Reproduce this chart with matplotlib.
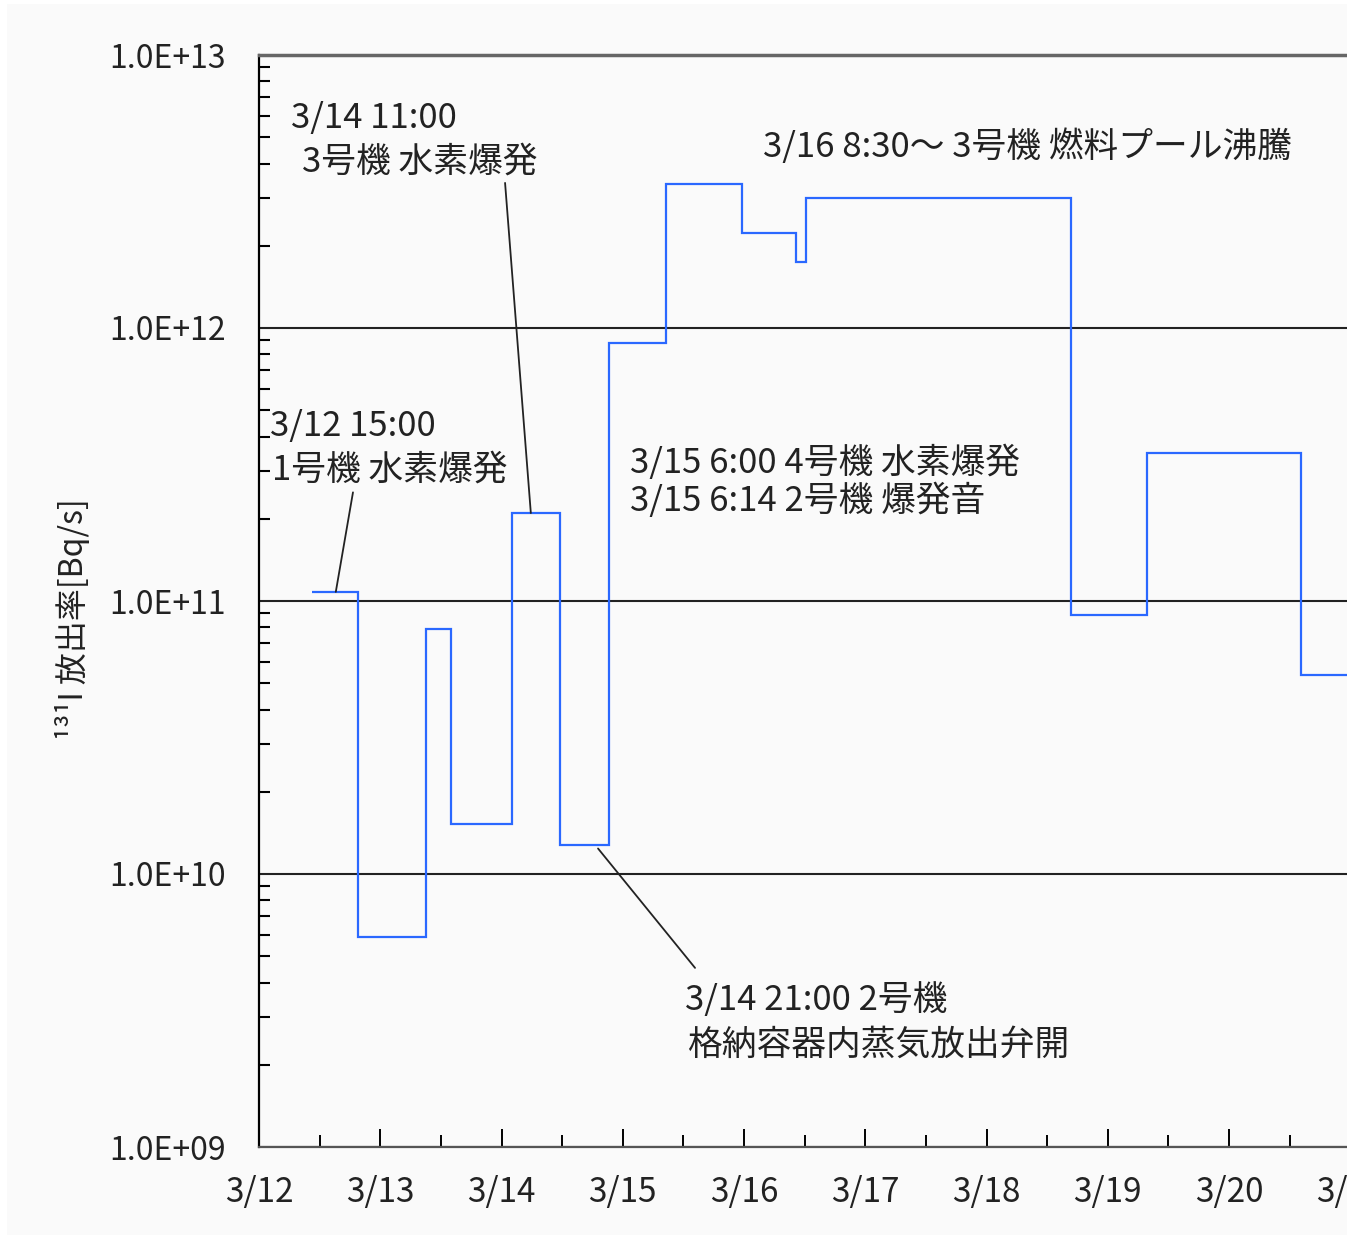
import matplotlib
matplotlib.use("Agg")
import matplotlib.pyplot as plt
from matplotlib.patches import Rectangle
from matplotlib.ticker import FixedLocator, FuncFormatter, LogLocator, NullFormatter

plt.rcParams['font.family'] = ['Noto Sans CJK JP', 'DejaVu Sans']

# step edges in hours from 3/12 0:00, release rate of I-131 [Bq/s]
edges_h = [10.5, 19.5, 33.0, 38.0, 50.0, 59.5, 69.3, 80.5, 95.6, 106.2, 108.2,
           160.7, 175.7, 206.2, 230.0]
rate = [1.08e11, 5.9e9, 7.9e10, 1.52e10, 2.1e11, 1.28e10, 8.8e11, 3.37e12,
        2.23e12, 1.75e12, 2.99e12, 8.9e10, 3.48e11, 5.36e10]
day_labels = ['3/12', '3/13', '3/14', '3/15', '3/16', '3/17', '3/18', '3/19',
              '3/20', '3/21']

W, H = 1347, 1239
fig = plt.figure(figsize=(W / 100, H / 100), dpi=100, facecolor='white')
fig.add_artist(Rectangle((7 / W, 4 / H), 1, 1231 / H, transform=fig.transFigure,
                         facecolor='#fafafa', edgecolor='none', zorder=-10))

ax = fig.add_axes([259 / W, (H - 1147) / H, 1152 / W, 1092 / H])
ax.set_facecolor('#fafafa')
ax.set_yscale('log')
ax.set_ylim(1e9, 1e13)
ax.set_xlim(0, 228)

ax.stairs(rate, edges_h, baseline=None, color='#2a68ff', lw=1.6, zorder=3)

# axes styling
ax.spines['right'].set_visible(False)
ax.spines['top'].set_color('#666666')
ax.spines['top'].set_linewidth(2.5)
ax.spines['left'].set_linewidth(1.6)
ax.spines['bottom'].set_linewidth(1.6)
ax.spines['bottom'].set_color('#555555')
ax.grid(axis='y', which='major', color='#222222', lw=1.5)
ax.set_axisbelow(True)

ax.yaxis.set_major_locator(LogLocator(base=10, numticks=10))
ax.yaxis.set_major_formatter(FuncFormatter(lambda v, p: '{:.1E}'.format(v)))
ax.yaxis.set_minor_locator(LogLocator(base=10, subs=range(2, 10), numticks=20))
ax.yaxis.set_minor_formatter(NullFormatter())
ax.tick_params(axis='y', which='major', length=0, pad=24, labelsize=23,
               labelcolor='#222222')
ax.tick_params(axis='y', which='minor', direction='in', length=8, width=1.5)

ax.xaxis.set_major_locator(FixedLocator([24 * i for i in range(len(day_labels))]))
ax.set_xticklabels(day_labels)
ax.xaxis.set_minor_locator(FixedLocator([12 + 24 * i for i in range(len(day_labels))]))
ax.tick_params(axis='x', which='major', direction='in', length=13, width=1.4,
               pad=20, labelsize=24, labelcolor='#222222')
ax.tick_params(axis='x', which='minor', direction='in', length=9, width=1.4)

ax.set_ylabel('¹³¹I 放出率[Bq/s]', fontsize=23, color='#222222')
ax.yaxis.set_label_coords(-0.147, 0.483)

# leader lines
lead = dict(arrowstyle='-', color='#222222', lw=1.3, shrinkA=0, shrinkB=0)
ax.annotate('', xy=(53.8, 2.1e11), xytext=(48.7, 3.4e12), arrowprops=lead)
ax.annotate('', xy=(15.2, 1.08e11), xytext=(18.6, 2.5e11), arrowprops=lead)
ax.annotate('', xy=(67.1, 1.24e10), xytext=(86.3, 4.53e9), arrowprops=lead)


def label(px, py, s):
    fig.text(px / W, 1 - py / H, s, ha='left', va='center', fontsize=25,
             color='#222222')


label(291, 118, '3/14 11:00')
label(302, 162, '3号機 水素爆発')
label(270, 427, '3/12 15:00')
label(272, 470, '1号機 水素爆発')
label(763, 147, '3/16 8:30〜 3号機 燃料プール沸騰')
label(630, 463, '3/15 6:00 4号機 水素爆発')
label(630, 501, '3/15 6:14 2号機 爆発音')
label(685, 1000, '3/14 21:00 2号機')
label(687, 1045, '格納容器内蒸気放出弁開')

fig.savefig('out.png', dpi=100, facecolor=fig.get_facecolor())
